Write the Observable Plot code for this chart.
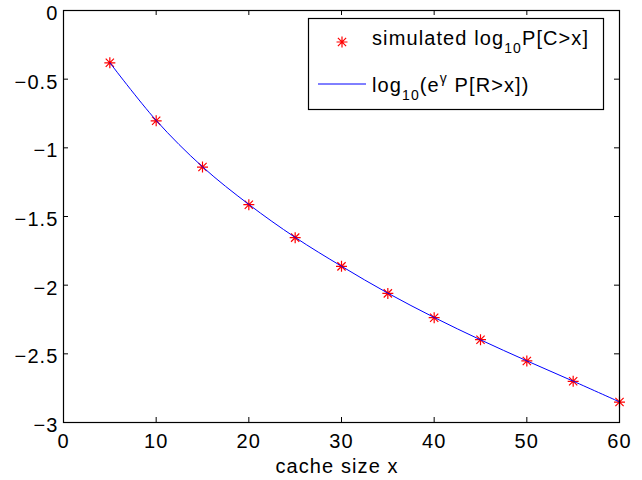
<!DOCTYPE html>
<html><head><meta charset="utf-8">
<script src="https://cdn.jsdelivr.net/npm/d3@7"></script>
<script src="https://cdn.jsdelivr.net/npm/@observablehq/plot@0.6"></script>
<style>
body{margin:0;background:#fff;}
#wrap{position:relative;width:642px;height:480px;}
#wrap svg{position:absolute;left:0;top:0;}
</style></head><body><div id="wrap"></div>
<script>
const cacheSize = [5, 10, 15, 20, 25, 30, 35, 40, 45, 50, 55, 60];
const simulated = [-0.381, -0.803, -1.140, -1.414, -1.654, -1.863, -2.060, -2.237, -2.397, -2.552, -2.700, -2.851];
const theory    = [-0.380, -0.800, -1.138, -1.412, -1.652, -1.862, -2.058, -2.235, -2.398, -2.551, -2.699, -2.850];
const xTicks = [0, 10, 20, 30, 40, 50, 60];
const yTicks = [0, -0.5, -1, -1.5, -2, -2.5, -3];
const xLabel = "cache size x";

const W = 642, H = 480, mL = 63, mR = 23, mT = 10, mB = 58;
const innerW = W - mL - mR, innerH = H - mT - mB;
const FONT = "'Liberation Sans', Arial, Helvetica, sans-serif";
const fmt = d3.format("~g");

const star = {draw(ctx, size) {
  const r = Math.sqrt(size / Math.PI), d = r * 0.75;
  ctx.moveTo(-r, 0); ctx.lineTo(r, 0);
  ctx.moveTo(0, -r); ctx.lineTo(0, r);
  ctx.moveTo(-d, -d); ctx.lineTo(d, d);
  ctx.moveTo(-d, d); ctx.lineTo(d, -d);
}};

const simData = cacheSize.map((x, i) => ({x, y: simulated[i]}));
const thData = cacheSize.map((x, i) => ({x, y: theory[i]}));

const chart = Plot.plot({
  width: W, height: H,
  marginLeft: mL, marginRight: mR, marginTop: mT, marginBottom: mB,
  style: {fontFamily: FONT, fontSize: "20px", letterSpacing: "1.1px", background: "white", color: "black"},
  x: {domain: [0, 60]},
  y: {domain: [-3, 0]},
  marks: [
    Plot.dot(simData, {x: "x", y: "y", symbol: star, r: 5.5, stroke: "#ff0000", fill: "none", strokeWidth: 1.2}),
    Plot.line(thData, {x: "x", y: "y", stroke: "#0000ff", strokeWidth: 1, curve: "catmull-rom"}),
    Plot.ruleX(xTicks, {x: d => d, insetTop: innerH - 5, stroke: "black"}),
    Plot.ruleX(xTicks, {x: d => d, insetBottom: innerH - 5, stroke: "black"}),
    Plot.ruleY(yTicks, {y: d => d, insetRight: innerW - 5, stroke: "black"}),
    Plot.ruleY(yTicks, {y: d => d, insetLeft: innerW - 5, stroke: "black"}),
    Plot.frame({stroke: "black", strokeWidth: 1.2}),
    Plot.axisX({ticks: xTicks, tickSize: 0, tickPadding: 11, tickFormat: fmt, label: null}),
    Plot.axisY({ticks: yTicks, tickSize: 0, tickPadding: 5, dy: 3, tickFormat: fmt, label: null})
  ]
});
const wrap = document.getElementById("wrap");
wrap.appendChild(chart);

// overlay: legend and axis title
const ov = d3.select(wrap).append("svg")
  .attr("width", W).attr("height", H)
  .style("pointer-events", "none")
  .attr("font-family", FONT).attr("font-size", 20).style("letter-spacing", "1.1px");

ov.append("text").attr("x", 337).attr("y", 473).attr("text-anchor", "middle").text(xLabel);

const lg = ov.append("g");
lg.append("rect").attr("x", 308.5).attr("y", 18.5).attr("width", 295).attr("height", 91)
  .attr("fill", "white").attr("stroke", "black").attr("stroke-width", 1.2);
lg.append("path").attr("d", d3.symbol(star, Math.PI * 30)()).attr("transform", "translate(342,42)")
  .attr("stroke", "#ff0000").attr("fill", "none").attr("stroke-width", 1.2);
lg.append("line").attr("x1", 318).attr("x2", 366).attr("y1", 84).attr("y2", 84).attr("stroke", "#0000ff");

const t1 = lg.append("text").attr("x", 372).attr("y", 44.5);
t1.append("tspan").text("simulated log");
t1.append("tspan").attr("dy", 8).attr("font-size", 14).text("10");
t1.append("tspan").attr("dy", -8).text("P[C>x]");

const t2 = lg.append("text").attr("x", 372).attr("y", 91.5);
t2.append("tspan").text("log");
t2.append("tspan").attr("dy", 8).attr("font-size", 14).text("10");
t2.append("tspan").attr("dy", -8).text("(e");
t2.append("tspan").attr("dy", -9).attr("font-size", 14).text("\u03b3");
t2.append("tspan").attr("dy", 9).text(" P[R>x])");
</script></body></html>
